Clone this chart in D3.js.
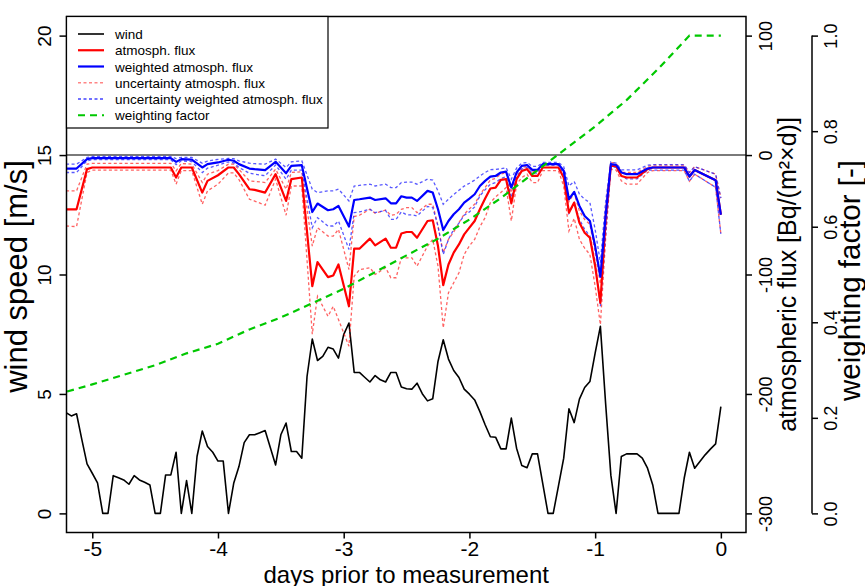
<!DOCTYPE html>
<html>
<head>
<meta charset="utf-8">
<script src="https://cdn.jsdelivr.net/npm/d3@7"></script>
<style>
  body { margin: 0; background: #fff; }
  svg text { font-family: "Liberation Sans", Arial, sans-serif; fill: #000; }
</style>
</head>
<body>
<svg id="chart"></svg>
<script>
// hourly wind speed, hours prior to measurement (-125 ... 0)
const windHours = d3.range(-125, 1);
const windSpeed = [
  4.22, 4.08, 4.17, 3.10, 2.07, 1.68, 1.28, 0, 0, 1.58,
  1.49, 1.40, 1.22, 1.58, 1.40, 1.30, 1.19, 0, 0, 1.61,
  1.61, 2.56, 0, 1.37, 0, 2.38, 3.45, 2.80, 2.56, 2.19,
  2.19, 0, 1.26, 1.96, 2.96, 3.29, 3.29, 3.38, 3.47, 2.75,
  2.03, 3.29, 3.78, 2.59, 2.59, 2.31, 5.73, 7.30, 6.40, 6.57,
  6.95, 6.88, 6.50, 7.48, 7.97, 5.90, 5.90, 5.70, 5.50, 5.77,
  5.59, 5.50, 5.90, 5.90, 5.29, 5.22, 5.20, 5.45, 5.01, 4.71,
  4.80, 6.36, 7.27, 6.46, 5.98, 5.69, 5.20, 4.99, 4.75, 4.26,
  3.71, 3.21, 3.19, 2.70, 2.70, 3.99, 2.73, 2.00, 1.91, 2.49,
  2.49, 1.25, 0, 0, 1.15, 2.31, 4.38, 3.80, 4.78, 5.27,
  5.52, 6.71, 7.83, 4.60, 1.60, 0, 2.38, 2.49, 2.49, 2.49,
  2.31, 1.89, 1.19, 0, 0, 0, 0, 0, 1.47, 2.56,
  1.89, 2.17, 2.45, 2.69, 2.91, 4.47
];

// flux series share these time stamps (hours prior to measurement)
const fluxHours = [
  -125, -123, -121, -120, -105, -104, -103, -101, -99, -98, -96, -94,
  -93, -92, -90, -89, -87, -85, -83, -82, -80, -78, -77, -75,
  -74, -73, -71, -70, -69, -67, -66, -64, -63, -62, -61, -60,
  -59, -58, -56, -55, -54, -53, -52, -51, -50, -49, -48, -47,
  -46, -45, -44, -43, -42, -41, -40, -39, -38, -37, -36, -35,
  -34, -32, -31, -30, -29, -28, -27, -26, -25, -24, -23, -22,
  -21, -20, -19, -18, -16, -14, -13, -7, -6, -5, -1, 0
];
const atmFlux = [
  -45.4, -45.4, -11.8, -10.4, -10.4, -18.8, -10.4, -10.4, -31.4, -21.6, -16.9, -10.4,
  -10.4, -16.0, -28.6, -29.2, -31.4, -16.0, -38.4, -20.2, -18.8, -109.8, -89.6, -102.2,
  -100.8, -91.6, -126.6, -78.4, -78.4, -70.0, -75.6, -70.0, -77.6, -77.6, -65.7, -64.4,
  -64.4, -69.2, -55.2, -54.6, -76.2, -108.9, -91.6, -81.7, -74.8, -66.4, -60.8, -55.2,
  -45.4, -36.4, -28.0, -27.2, -20.8, -20.2, -40.4, -20.2, -13.3, -11.8, -17.5, -17.5,
  -10.4, -10.4, -10.4, -18.8, -48.2, -39.8, -56.6, -65.0, -69.2, -93.0, -123.7, -53.8,
  -9.1, -9.1, -17.5, -18.8, -18.8, -11.8, -10.4, -10.4, -18.0, -12.5, -21.0, -50.0
];
const weightedFlux = [
  -11.3, -11.3, -3.4, -2.6, -2.6, -5.7, -3.4, -3.9, -10.4, -7.6, -6.2, -3.9,
  -4.8, -7.6, -11.3, -11.8, -12.6, -5.7, -15.2, -9.1, -8.5, -47.7, -40.6, -46.2,
  -45.4, -42.6, -59.9, -37.6, -37.0, -35.6, -37.6, -36.2, -40.4, -40.4, -34.5, -35.6,
  -35.6, -38.4, -30.0, -31.4, -45.4, -62.8, -55.2, -49.6, -45.4, -39.8, -36.4, -32.8,
  -25.9, -21.6, -18.0, -17.5, -14.6, -13.9, -27.2, -14.6, -9.1, -8.3, -12.4, -12.4,
  -7.6, -7.6, -7.6, -13.1, -37.0, -30.9, -42.6, -51.0, -55.2, -76.2, -101.9, -51.0,
  -7.6, -8.3, -14.6, -16.0, -16.0, -11.3, -10.4, -10.4, -18.0, -12.5, -21.0, -50.0
];
const atmFluxUpper = [
  -30.0, -30.0, -7.6, -7.0, -7.0, -13.3, -7.0, -7.6, -23.0, -16.0, -13.0, -7.6,
  -7.6, -12.0, -21.6, -22.0, -23.0, -11.8, -28.6, -14.6, -14.0, -76.2, -60.8, -67.8,
  -67.8, -62.2, -95.8, -51.5, -50.4, -45.4, -48.8, -46.0, -50.4, -49.6, -45.4, -44.0,
  -44.0, -48.2, -41.2, -41.2, -59.4, -81.7, -70.6, -64.4, -56.5, -49.6, -45.0, -41.2,
  -33.0, -27.2, -20.8, -19.5, -15.9, -14.6, -31.4, -15.9, -10.4, -9.5, -13.9, -13.9,
  -8.2, -8.2, -8.2, -14.6, -39.0, -32.0, -46.8, -54.0, -58.0, -81.7, -108.0, -45.0,
  -6.2, -6.8, -14.6, -14.6, -14.6, -9.7, -8.5, -8.5, -14.6, -9.7, -16.0, -36.0
];
const atmFluxLower = [
  -59.4, -59.9, -14.6, -12.6, -12.6, -24.4, -13.0, -13.0, -41.2, -30.0, -24.4, -15.0,
  -15.0, -20.5, -37.0, -38.5, -42.0, -20.2, -50.4, -25.9, -25.9, -150.0, -118.2, -135.0,
  -126.6, -137.7, -160.0, -101.4, -96.0, -94.3, -100.0, -94.3, -102.7, -102.7, -86.0, -86.0,
  -86.0, -93.0, -76.2, -70.6, -93.0, -144.7, -115.3, -106.9, -98.5, -83.2, -76.0, -70.6,
  -60.0, -52.4, -39.8, -35.0, -31.4, -27.2, -55.2, -24.4, -18.8, -16.0, -23.0, -23.0,
  -13.1, -13.1, -13.1, -26.0, -63.6, -53.0, -70.6, -78.0, -83.2, -109.8, -142.0, -70.0,
  -11.8, -12.6, -21.6, -24.4, -24.4, -14.6, -13.1, -13.1, -22.0, -16.0, -27.0, -66.0
];
const weightedUpper = [
  -7.6, -7.6, -2.0, -1.2, -1.2, -3.0, -2.0, -2.0, -6.8, -5.0, -3.6, -2.8,
  -3.0, -4.8, -6.8, -7.2, -7.6, -3.4, -10.4, -5.7, -4.8, -28.6, -31.4, -30.0,
  -30.0, -28.6, -38.4, -25.9, -25.4, -24.4, -25.9, -24.4, -27.2, -27.2, -23.0, -22.6,
  -22.6, -24.4, -20.2, -21.0, -30.0, -41.2, -37.0, -33.0, -29.5, -26.0, -23.6, -21.0,
  -17.5, -14.6, -12.2, -12.0, -11.5, -10.6, -20.2, -11.0, -6.8, -6.2, -9.5, -9.5,
  -6.2, -6.2, -6.2, -9.7, -25.9, -22.0, -32.8, -37.0, -39.8, -62.2, -90.1, -39.0,
  -5.7, -6.8, -12.4, -12.4, -12.4, -8.5, -8.0, -8.0, -14.6, -9.7, -16.0, -36.0
];
const weightedLower = [
  -14.6, -14.6, -4.8, -3.9, -3.9, -8.0, -4.8, -5.5, -14.6, -11.0, -8.5, -5.7,
  -6.5, -10.4, -15.2, -16.0, -17.4, -8.3, -20.2, -12.6, -12.6, -60.8, -52.4, -59.4,
  -59.4, -55.2, -79.0, -48.2, -47.6, -45.4, -48.2, -46.4, -53.8, -53.8, -47.5, -50.0,
  -50.0, -51.0, -43.0, -44.0, -59.4, -83.2, -70.6, -62.2, -57.0, -50.4, -47.6, -43.4,
  -34.2, -29.0, -24.4, -23.0, -19.6, -18.2, -35.6, -18.2, -11.8, -10.4, -15.2, -15.2,
  -8.5, -8.5, -8.5, -15.9, -48.6, -40.0, -53.8, -62.2, -67.8, -90.1, -126.6, -67.0,
  -9.7, -10.4, -17.4, -20.0, -20.0, -12.6, -12.6, -12.6, -22.0, -16.0, -27.0, -66.0
];

// weighting factor, in days prior to measurement
const weightDays = [-5.2, -5.0, -4.75, -4.5, -4.25, -4.0, -3.75, -3.5, -3.25, -3.0, -2.75,
  -2.5, -2.25, -2.0, -1.75, -1.5, -1.25, -1.0, -0.75, -0.5, -0.25, 0];
const weightFactor = [0.255, 0.27, 0.29, 0.31, 0.335, 0.355, 0.385, 0.41, 0.44, 0.47, 0.505,
  0.54, 0.575, 0.615, 0.66, 0.71, 0.76, 0.81, 0.865, 0.93, 1.0, 1.0];

const dayTicks = [-5, -4, -3, -2, -1, 0];
const windTicks = [0, 5, 10, 15, 20];
const fluxTicks = [-300, -200, -100, 0, 100];
const weightTicks = [0, 0.2, 0.4, 0.6, 0.8, 1.0];

const legendLabels = ["wind", "atmosph. flux", "weighted atmosph. flux",
  "uncertainty atmosph. flux", "uncertainty weighted atmosph. flux", "weighting factor"];

// Dimensions for the SVG
const width = 865;
const height = 586;
const box = { left: 66.5, right: 746, top: 16.5, bottom: 532.5 };

const svg = d3.select("#chart")
    .attr("width", width)
    .attr("height", height);

const x = d3.scaleLinear().domain([-5.205, 0.2]).range([box.left, box.right]);
const yWind = d3.scaleLinear().domain([-0.8, 20.8]).range([box.bottom, box.top]);
const yFlux = d3.scaleLinear().domain([-316, 116]).range([box.bottom, box.top]);
const yWeight = d3.scaleLinear().domain([-0.04, 1.04]).range([box.bottom, box.top]);

svg.append("defs").append("clipPath").attr("id", "plotClip")
  .append("rect")
    .attr("x", box.left).attr("y", box.top)
    .attr("width", box.right - box.left).attr("height", box.bottom - box.top);

const plot = svg.append("g").attr("clip-path", "url(#plotClip)");

const windData = windHours.map((h, i) => ({ day: h / 24, v: windSpeed[i] }));
const fluxSeries = (vals) => fluxHours.map((h, i) => ({ day: h / 24, v: vals[i] }));

const windLine = d3.line().x(d => x(d.day)).y(d => yWind(d.v));
const fluxLine = d3.line().x(d => x(d.day)).y(d => yFlux(d.v));
const weightLine = d3.line().x(d => x(d.day)).y(d => yWeight(d.v));

// zero flux reference line
plot.append("line")
    .attr("x1", box.left).attr("x2", box.right)
    .attr("y1", yFlux(0)).attr("y2", yFlux(0))
    .attr("stroke", "#7a7a7a").attr("stroke-width", 2);

plot.append("path")
    .datum(windData)
    .attr("d", windLine)
    .attr("fill", "none").attr("stroke", "#000").attr("stroke-width", 1.6)
    .attr("stroke-linejoin", "round");

const dashed = [
  { vals: atmFluxUpper, color: "#ff2020", op: 0.7 },
  { vals: atmFluxLower, color: "#ff2020", op: 0.7 },
  { vals: weightedUpper, color: "#2020ff", op: 0.75 },
  { vals: weightedLower, color: "#2020ff", op: 0.75 }
];
dashed.forEach(s => {
  plot.append("path")
      .datum(fluxSeries(s.vals))
      .attr("d", fluxLine)
      .attr("fill", "none").attr("stroke", s.color).attr("stroke-opacity", s.op)
      .attr("stroke-width", 1.3).attr("stroke-dasharray", "3,2.5");
});

plot.append("path")
    .datum(fluxSeries(atmFlux))
    .attr("d", fluxLine)
    .attr("fill", "none").attr("stroke", "#ff0000").attr("stroke-width", 2.2)
    .attr("stroke-linejoin", "round");

plot.append("path")
    .datum(fluxSeries(weightedFlux))
    .attr("d", fluxLine)
    .attr("fill", "none").attr("stroke", "#0000ff").attr("stroke-width", 2.2)
    .attr("stroke-linejoin", "round");

plot.append("path")
    .datum(weightDays.map((d, i) => ({ day: d, v: weightFactor[i] })))
    .attr("d", weightLine)
    .attr("fill", "none").attr("stroke", "#00c800").attr("stroke-width", 2.2)
    .attr("stroke-dasharray", "7,5");

// plot box
svg.append("rect")
    .attr("x", box.left).attr("y", box.top)
    .attr("width", box.right - box.left).attr("height", box.bottom - box.top)
    .attr("fill", "none").attr("stroke", "#000").attr("stroke-width", 1.5);

// bottom axis
const xAxis = svg.append("g")
    .attr("transform", `translate(0,${box.bottom})`)
    .call(d3.axisBottom(x).tickValues(dayTicks).tickSize(6).tickFormat(d => String(d)));
xAxis.select(".domain").remove();
xAxis.selectAll("line").attr("stroke-width", 1.5);
xAxis.selectAll("text").attr("font-size", 21).attr("y", 23.5).attr("dy", 0).attr("font-family", null);

// left axis
const yAxisL = svg.append("g")
    .attr("transform", `translate(${box.left},0)`)
    .call(d3.axisLeft(yWind).tickValues(windTicks).tickSize(7).tickFormat(d => String(d)));
yAxisL.select(".domain").remove();
yAxisL.selectAll("line").attr("stroke-width", 1.5);
yAxisL.selectAll("text")
    .attr("font-size", 19).attr("x", 0).attr("dy", 0).attr("font-family", null)
    .attr("text-anchor", "middle")
    .attr("transform", "translate(-16,0) rotate(-90)");

// right axis: flux
const yAxisR = svg.append("g")
    .attr("transform", `translate(${box.right},0)`)
    .call(d3.axisRight(yFlux).tickValues(fluxTicks).tickSize(6).tickFormat(d => String(d)));
yAxisR.select(".domain").remove();
yAxisR.selectAll("line").attr("stroke-width", 1.5);
yAxisR.selectAll("text")
    .attr("font-size", 18).attr("x", 0).attr("dy", 0).attr("font-family", null)
    .attr("text-anchor", "middle")
    .attr("transform", "translate(26,0) rotate(-90)");

// second right axis: weighting factor
const wAxisX = 812;
const yAxisW = svg.append("g")
    .attr("transform", `translate(${wAxisX},0)`)
    .call(d3.axisRight(yWeight).tickValues(weightTicks).tickSize(6).tickFormat(d3.format(".1f")));
yAxisW.select(".domain").remove();
yAxisW.append("line")
    .attr("x1", 0).attr("x2", 0)
    .attr("y1", yWeight(0)).attr("y2", yWeight(1))
    .attr("stroke", "#000").attr("stroke-width", 1.5);
yAxisW.selectAll("line").attr("stroke-width", 1.5);
yAxisW.selectAll("text")
    .attr("font-size", 18).attr("x", 0).attr("dy", 0).attr("font-family", null)
    .attr("text-anchor", "middle")
    .attr("transform", "translate(25,0) rotate(-90)");

// axis titles
const midY = (box.top + box.bottom) / 2;
svg.append("text")
    .attr("x", (x(-5.205) + x(0.2)) / 2).attr("y", 582.5)
    .attr("text-anchor", "middle").attr("font-size", 24)
    .text("days prior to measurement");
svg.append("text")
    .attr("transform", `translate(27,${midY + 2}) rotate(-90)`)
    .attr("text-anchor", "middle").attr("font-size", 31)
    .text("wind speed [m/s]");
svg.append("text")
    .attr("transform", `translate(796,${midY}) rotate(-90)`)
    .attr("text-anchor", "middle").attr("font-size", 25)
    .text("atmospheric flux [Bq/(m²×d)]");
svg.append("text")
    .attr("transform", `translate(860,${midY + 6}) rotate(-90)`)
    .attr("text-anchor", "middle").attr("font-size", 29.5)
    .text("weighting factor [-]");

// legend
const legendStyles = [
  { color: "#000", width: 1.6, dash: null, op: 1 },
  { color: "#ff0000", width: 2.2, dash: null, op: 1 },
  { color: "#0000ff", width: 2.2, dash: null, op: 1 },
  { color: "#ff2020", width: 1.3, dash: "3,2.5", op: 0.55 },
  { color: "#2020ff", width: 1.3, dash: "3,2.5", op: 0.85 },
  { color: "#00c800", width: 2.2, dash: "7,5", op: 1 }
];
const legend = svg.append("g");
legend.append("rect")
    .attr("x", box.left).attr("y", box.top)
    .attr("width", 328 - box.left).attr("height", 128 - box.top)
    .attr("fill", "#fff").attr("stroke", "#000").attr("stroke-width", 1.2);
const rows = legend.selectAll("g.row")
  .data(legendLabels)
  .enter().append("g")
    .attr("class", "row")
    .attr("transform", (d, i) => `translate(0,${34 + i * 16.25})`);
rows.append("line")
    .attr("x1", 78).attr("x2", 104).attr("y1", 0).attr("y2", 0)
    .attr("stroke", (d, i) => legendStyles[i].color)
    .attr("stroke-width", (d, i) => legendStyles[i].width)
    .attr("stroke-opacity", (d, i) => legendStyles[i].op)
    .attr("stroke-dasharray", (d, i) => legendStyles[i].dash);
rows.append("text")
    .attr("x", 115).attr("y", 5)
    .attr("font-size", 13.5)
    .text(d => d);
</script>
</body>
</html>
